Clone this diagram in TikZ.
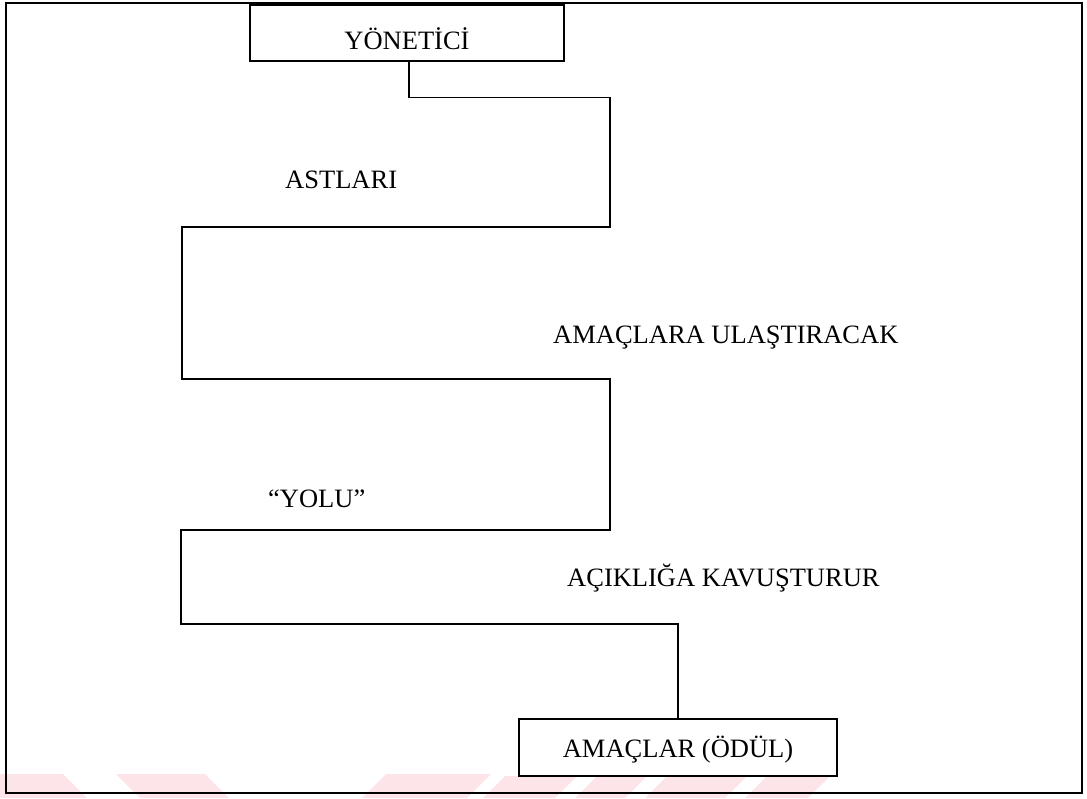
\documentclass[tikz,border=0pt]{standalone}
\usepackage{fontspec}
\setmainfont{Liberation Serif}
\definecolor{wm}{HTML}{FCE4E8}
\tikzset{
  lbl/.style={anchor=base west, inner sep=0pt, font=\fontsize{26.5}{30}\selectfont},
  boxnode/.style={draw, line width=1.6pt, inner sep=0pt, font=\fontsize{26.5}{30}\selectfont},
  conn/.style={line width=1.6pt},
  frame/.style={line width=1.6pt},
  wmark/.style={fill=wm, draw=none}
}
\begin{document}
\begin{tikzpicture}[x=1pt,y=-1pt]
\useasboundingbox (0,0) rectangle (1087,798);
% faint watermark at the bottom
\fill[wmark] (0,774) -- (63,774) -- (87,798) -- (0,798) -- cycle;
\fill[wmark] (116,774) -- (205,774) -- (229,798) -- (140,798) -- cycle;
\fill[wmark] (386,774) -- (491,774) -- (467,798) -- (362,798) -- cycle;
\fill[wmark] (505,776) -- (577,776) -- (555,798) -- (483,798) -- cycle;
\fill[wmark] (597,776) -- (647,776) -- (625,798) -- (575,798) -- cycle;
\fill[wmark] (667,776) -- (747,776) -- (725,798) -- (645,798) -- cycle;
\fill[wmark] (767,776) -- (830,776) -- (808,798) -- (745,798) -- cycle;
% outer frame
\draw[frame] (6,3) rectangle (1082,793);
% boxes
\node[boxnode, minimum width=314pt, minimum height=56pt, text height=32pt, text depth=0pt] (boss) at (407,33) {YÖNETİCİ};
\node[boxnode, minimum width=318pt, minimum height=57pt, text height=19pt, text depth=0pt] (goal) at (678,747.5) {AMAÇLAR (ÖDÜL)};
% path
\coordinate (p1) at (409,97.5);
\coordinate (p2) at (610,97.5);
\coordinate (p3) at (610,227);
\coordinate (p4) at (182,227);
\coordinate (p5) at (182,379);
\coordinate (p6) at (610,379);
\coordinate (p7) at (610,530);
\coordinate (p8) at (181,530);
\coordinate (p9) at (181,624);
\coordinate (p10) at (678,624);
\draw[conn] (boss.south -| p1) -- (p1) -- (p2) -- (p3) -- (p4) -- (p5) -- (p6) -- (p7) -- (p8) -- (p9) -- (p10) -- (goal.north -| p10);
% labels
\node[lbl] (l1) at (285,188) {ASTLARI};
\node[lbl] (l2) at (553,343) {AMAÇLARA ULAŞTIRACAK};
\node[lbl] (l3) at (268,507) {“YOLU”};
\node[lbl] (l4) at (567,586) {AÇIKLIĞA KAVUŞTURUR};
\end{tikzpicture}
\end{document}
